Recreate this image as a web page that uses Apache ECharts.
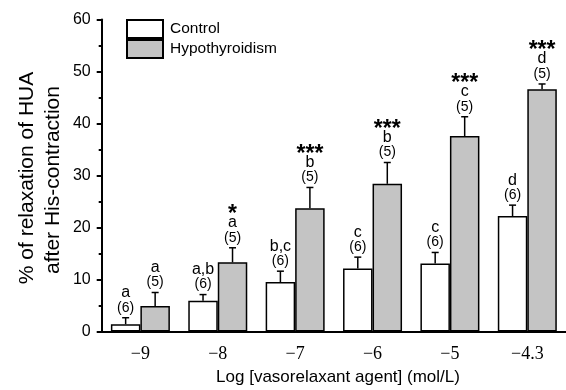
<!DOCTYPE html>
<html><head><meta charset="utf-8">
<script src="https://cdn.jsdelivr.net/npm/echarts@6/dist/echarts.min.js"></script>
<style>html,body{margin:0;padding:0;background:#fff}#c{width:566px;height:390px}</style>
</head><body><div id="c"></div>
<script>
const categories = ['\u22129', '\u22128', '\u22127', '\u22126', '\u22125', '\u22124.3'];
const controlMean = [1.4, 5.9, 9.5, 12.1, 13.1, 22.2];
const controlSem = [1.25, 1.2, 2.1, 2.2, 2.1, 2.1];
const hypoMean = [4.9, 13.3, 23.7, 28.4, 37.6, 46.6];
const hypoSem = [2.6, 2.8, 4.0, 4.1, 3.7, 1.0];
const controlN = ['(6)', '(6)', '(6)', '(6)', '(6)', '(6)'];
const hypoN = ['(5)', '(5)', '(5)', '(5)', '(5)', '(5)'];
const controlLetters = ['a', 'a,b', 'b,c', 'c', 'c', 'd'];
const hypoLetters = ['a', 'a', 'b', 'b', 'c', 'd'];
const controlStars = ['', '', '', '', '', ''];
const hypoStars = ['', '*', '***', '***', '***', '***'];
const yTicks = [0, 10, 20, 30, 40, 50, 60];

const BAR_W = 29.5;
const SANS = 'Liberation Sans, Arial, sans-serif';
const SERIF = 'Liberation Serif, Times New Roman, serif';

function errSeries(mean, sem, nLab, letters, stars, side) {
  return {
    type: 'custom',
    z: 5,
    data: mean.map((m, i) => [i, m, m + sem[i]]),
    renderItem: function (params, api) {
      const i = api.value(0);
      const top = api.coord([i, api.value(1)]);
      const end = api.coord([i, api.value(2)]);
      const x = top[0] + side * BAR_W / 2;
      const ey = end[1];
      const children = [
        { type: 'line', shape: { x1: x, y1: top[1], x2: x, y2: ey }, style: { stroke: '#000', lineWidth: 1.5 } },
        { type: 'line', shape: { x1: x - 3.5, y1: ey, x2: x + 3.5, y2: ey }, style: { stroke: '#000', lineWidth: 1.5 } },
        { type: 'text', x: x, y: ey - 10, style: { text: nLab[i], font: '14px ' + SANS, fill: '#000', align: 'center', verticalAlign: 'middle' } },
        { type: 'text', x: x, y: ey - 25, style: { text: letters[i], font: '16px ' + SANS, fill: '#000', align: 'center', verticalAlign: 'middle' } }
      ];
      if (stars[i]) {
        children.push({ type: 'text', x: x, y: ey - 33, style: { text: stars[i], font: 'bold 23px ' + SANS, fill: '#000', align: 'center', verticalAlign: 'middle' } });
      }
      return { type: 'group', children: children };
    }
  };
}

const chart = echarts.init(document.getElementById('c'), null, { renderer: 'canvas' });
chart.setOption({
  animation: false,
  backgroundColor: '#fff',
  grid: { left: 101.7, right: -7.3, top: 19.5, bottom: 58.5, containLabel: false },
  legend: {
    orient: 'vertical', left: 126, top: 19, itemWidth: 36, itemHeight: 18, itemGap: 0, padding: 0,
    icon: 'rect',
    textStyle: { fontFamily: SANS, fontSize: 15.5, color: '#000', padding: [0, 0, 0, 2], lineHeight: 18 },
    data: ['Control', 'Hypothyroidism']
  },
  xAxis: [{
    type: 'category', data: categories,
    axisLine: { lineStyle: { color: '#000', width: 2 } },
    axisTick: { alignWithLabel: true, length: 5, lineStyle: { color: '#000', width: 2 } },
    axisLabel: { fontFamily: SERIF, fontSize: 18, color: '#000', margin: 14 },
    splitLine: { show: false }
  }, {
    type: 'category', data: categories, position: 'bottom',
    axisLine: { show: false },
    axisTick: { length: 3, lineStyle: { color: '#000', width: 2 } },
    axisLabel: { show: false },
    splitLine: { show: false }
  }],
  yAxis: {
    type: 'value', min: yTicks[0], max: yTicks[yTicks.length - 1], interval: 10,
    axisLine: { show: true, lineStyle: { color: '#000', width: 2 } },
    axisTick: { show: true, length: 5, lineStyle: { color: '#000', width: 2 } },
    minorTick: { show: true, splitNumber: 2, length: 3, lineStyle: { color: '#000', width: 2 } },
    axisLabel: { fontFamily: SANS, fontSize: 16, color: '#000', margin: 11 },
    splitLine: { show: false }
  },
  series: [
    { name: 'Control', type: 'bar', data: controlMean, barWidth: BAR_W, barGap: '0%',
      itemStyle: { color: '#ffffff', borderColor: '#000', borderWidth: 1.5 } },
    { name: 'Hypothyroidism', type: 'bar', data: hypoMean, barWidth: BAR_W, barGap: '0%',
      itemStyle: { color: '#c4c4c4', borderColor: '#000', borderWidth: 1.5 } },
    errSeries(controlMean, controlSem, controlN, controlLetters, controlStars, -1),
    errSeries(hypoMean, hypoSem, hypoN, hypoLetters, hypoStars, 1)
  ],
  graphic: [
    { type: 'text', x: 338, y: 377, style: { text: 'Log [vasorelaxant agent] (mol/L)', font: '17px ' + SANS, fill: '#000', align: 'center', verticalAlign: 'middle' } },
    { type: 'text', x: 27, y: 178, rotation: Math.PI / 2, style: { text: '% of relaxation of HUA', font: '21px ' + SANS, fill: '#000', align: 'center', verticalAlign: 'middle' } },
    { type: 'text', x: 53, y: 180, rotation: Math.PI / 2, style: { text: 'after His-contraction', font: '21px ' + SANS, fill: '#000', align: 'center', verticalAlign: 'middle' } }
  ]
});
</script>
</body></html>
